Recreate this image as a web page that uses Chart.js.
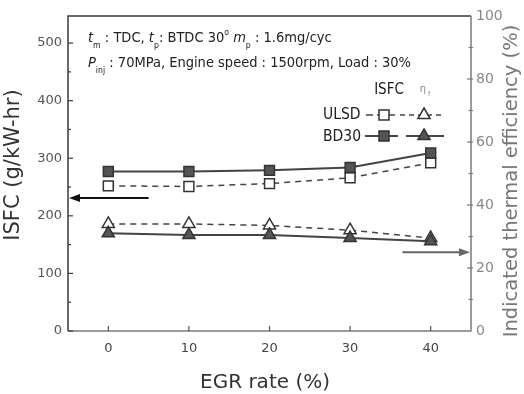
<!DOCTYPE html>
<html>
<head>
<meta charset="utf-8">
<script src="https://cdn.jsdelivr.net/npm/chart.js@4.4.1/dist/chart.umd.min.js"></script>
<style>
  html, body { margin: 0; padding: 0; background: #fff; }
  #wrap { width: 524px; height: 394px; }
</style>
</head>
<body>
<div id="wrap"><canvas id="chart" width="524" height="394"></canvas></div>
<script>
// data
const egrRate = [0, 10, 20, 30, 40];
const isfcULSD = [252, 251, 256, 266, 292];
const isfcBD30 = [277, 277, 279, 284, 309];
const effULSD = [34, 34, 33.5, 32, 29.5];
const effBD30 = [31, 30.5, 30.5, 29.5, 28.5];

const xTicks = [0, 10, 20, 30, 40];
const isfcTicks = [0, 100, 200, 300, 400, 500];
const effTicks = [0, 20, 40, 60, 80, 100];

const SANS = '"DejaVu Sans", Verdana, sans-serif';
const COND = '"DejaVu Sans Condensed", "DejaVu Sans", sans-serif';

const pts = (xs, ys) => xs.map((x, i) => ({ x: x, y: ys[i] }));

// draw text with italic / sub / superscript pieces
function drawRuns(ctx, x, y, parts, size) {
  ctx.textAlign = 'left';
  ctx.textBaseline = 'alphabetic';
  parts.forEach(p => {
    const s = (p.sub || p.sup) ? size * 0.6 : size;
    ctx.font = (p.it ? 'italic ' : '') + s + 'px ' + COND;
    const dy = p.sub ? size * 0.38 : p.sup ? -size * 0.5 : 0;
    ctx.fillText(p.t, x, y + dy);
    x += ctx.measureText(p.t).width;
  });
}

function marker(ctx, kind, x, y, filled) {
  ctx.save();
  ctx.setLineDash([]);
  ctx.lineWidth = 1.5;
  ctx.strokeStyle = '#333';
  ctx.fillStyle = filled ? '#555' : '#fff';
  ctx.beginPath();
  if (kind === 'rect') {
    ctx.rect(x - 5, y - 5, 10, 10);
  } else {
    ctx.moveTo(x, y - 7);
    ctx.lineTo(x + 6.1, y + 3.5);
    ctx.lineTo(x - 6.1, y + 3.5);
    ctx.closePath();
  }
  ctx.fill();
  ctx.stroke();
  ctx.restore();
}

function arrow(ctx, x1, x2, y, color) {
  const dir = Math.sign(x2 - x1);
  ctx.save();
  ctx.strokeStyle = color;
  ctx.fillStyle = color;
  ctx.lineWidth = 2;
  ctx.beginPath();
  ctx.moveTo(x1, y);
  ctx.lineTo(x2 - dir * 8, y);
  ctx.stroke();
  ctx.beginPath();
  ctx.moveTo(x2, y);
  ctx.lineTo(x2 - dir * 11, y - 4);
  ctx.lineTo(x2 - dir * 11, y + 4);
  ctx.closePath();
  ctx.fill();
  ctx.restore();
}

function seg(ctx, x1, x2, y, dash, w) {
  ctx.setLineDash(dash);
  ctx.lineWidth = w;
  ctx.beginPath();
  ctx.moveTo(x1, y);
  ctx.lineTo(x2, y);
  ctx.stroke();
  ctx.setLineDash([]);
}

const framePlugin = {
  id: 'frame',
  beforeDatasetsDraw(chart) {
    const ctx = chart.ctx;
    const a = chart.chartArea;
    const x = chart.scales.x, yL = chart.scales.yL, yR = chart.scales.yR;
    ctx.save();
    ctx.lineWidth = 1.5;
    // top + left
    ctx.strokeStyle = '#3a3a3a';
    ctx.beginPath();
    ctx.moveTo(a.left, a.bottom);
    ctx.lineTo(a.left, a.top);
    ctx.lineTo(a.right, a.top);
    ctx.stroke();
    // right + bottom (grey)
    ctx.strokeStyle = '#7a7a7a';
    ctx.beginPath();
    ctx.moveTo(a.right, a.top);
    ctx.lineTo(a.right, a.bottom);
    ctx.lineTo(a.left, a.bottom);
    ctx.stroke();

    ctx.lineWidth = 1.2;
    // left ticks (inward), minor every 50
    ctx.strokeStyle = '#3a3a3a';
    for (let v = 0; v <= 500; v += 50) {
      const py = yL.getPixelForValue(v);
      const len = v % 100 === 0 ? 5 : 3;
      ctx.beginPath();
      ctx.moveTo(a.left, py);
      ctx.lineTo(a.left + len, py);
      ctx.stroke();
    }
    // right ticks, minor every 10
    ctx.strokeStyle = '#7a7a7a';
    for (let v = 10; v < 100; v += 10) {
      const py = yR.getPixelForValue(v);
      const len = v % 20 === 0 ? 4 : 2.5;
      ctx.beginPath();
      ctx.moveTo(a.right - len, py);
      ctx.lineTo(a.right + 2, py);
      ctx.stroke();
    }
    // x ticks (inward)
    ctx.strokeStyle = '#555';
    xTicks.forEach(v => {
      const px = x.getPixelForValue(v);
      ctx.beginPath();
      ctx.moveTo(px, a.bottom);
      ctx.lineTo(px, a.bottom - 5);
      ctx.stroke();
    });
    ctx.restore();
  },
  afterDraw(chart) {
    const ctx = chart.ctx;
    const a = chart.chartArea;
    const x = chart.scales.x, yL = chart.scales.yL, yR = chart.scales.yR;
    ctx.save();

    // arrows pointing at each axis
    arrow(ctx, x.getPixelForValue(5), a.left + 1, yL.getPixelForValue(231), '#111');
    arrow(ctx, x.getPixelForValue(36.5), a.right - 1, yR.getPixelForValue(25), '#666');

    // condition text
    ctx.fillStyle = '#222';
    drawRuns(ctx, 88, 42, [
      { t: 't', it: true }, { t: 'm', sub: true }, { t: ' : TDC, ' },
      { t: 't', it: true }, { t: 'p', sub: true }, { t: ': BTDC 30' },
      { t: 'o', sup: true }, { t: ' ' },
      { t: 'm', it: true }, { t: 'p', sub: true }, { t: ' : 1.6mg/cyc' }
    ], 14.5);
    drawRuns(ctx, 88, 67, [
      { t: 'P', it: true }, { t: 'inj', sub: true },
      { t: ' : 70MPa, Engine speed : 1500rpm, Load : 30%' }
    ], 14.5);

    // legend
    ctx.fillStyle = '#222';
    ctx.font = '15px ' + COND;
    ctx.textBaseline = 'middle';
    ctx.textAlign = 'center';
    ctx.fillText('ISFC', 389, 90);
    ctx.fillStyle = '#888';
    ctx.font = '11px ' + COND;
    ctx.fillText('\u03b7', 423, 89);
    ctx.font = '7px ' + COND;
    ctx.fillText('f', 429, 94);

    ctx.fillStyle = '#222';
    ctx.font = '15.5px ' + COND;
    ctx.textAlign = 'left';
    ctx.fillText('ULSD', 323, 115);
    ctx.fillText('BD30', 323, 137);

    ctx.strokeStyle = '#444';
    seg(ctx, 366, 398, 115, [7, 4], 1.5);
    seg(ctx, 400, 444, 115, [5, 4], 1.5);
    seg(ctx, 365, 398, 136, [], 2);
    seg(ctx, 406, 444, 136, [], 2);
    marker(ctx, 'rect', 384, 115, false);
    marker(ctx, 'tri', 424, 115, false);
    marker(ctx, 'rect', 384, 136, true);
    marker(ctx, 'tri', 424, 136, true);

    // axis titles
    ctx.textAlign = 'center';
    ctx.textBaseline = 'middle';
    ctx.fillStyle = '#333';
    ctx.font = '20px ' + SANS;
    ctx.fillText('EGR rate (%)', 265, 383);
    ctx.save();
    ctx.font = '21px ' + SANS;
    ctx.translate(14, 165);
    ctx.rotate(-Math.PI / 2);
    ctx.fillText('ISFC (g/kW-hr)', 0, 0);
    ctx.restore();
    ctx.save();
    ctx.fillStyle = '#777';
    ctx.font = '19.5px ' + SANS;
    ctx.translate(512, 181);
    ctx.rotate(-Math.PI / 2);
    ctx.fillText('Indicated thermal efficiency (%)', 0, 0);
    ctx.restore();

    ctx.restore();
  }
};

const dashed = [6, 5];

new Chart(document.getElementById('chart'), {
  type: 'line',
  data: {
    datasets: [
      {
        label: 'ULSD eta', yAxisID: 'yR', data: pts(egrRate, effULSD),
        borderColor: '#444', borderWidth: 1.5, borderDash: dashed,
        pointStyle: 'triangle', pointRadius: 7, pointBackgroundColor: '#fff',
        pointBorderColor: '#333', pointBorderWidth: 1.5, order: 2
      },
      {
        label: 'BD30 eta', yAxisID: 'yR', data: pts(egrRate, effBD30),
        borderColor: '#444', borderWidth: 2,
        pointStyle: 'triangle', pointRadius: 7, pointBackgroundColor: '#555',
        pointBorderColor: '#333', pointBorderWidth: 1.5, order: 1
      },
      {
        label: 'ULSD ISFC', yAxisID: 'yL', data: pts(egrRate, isfcULSD),
        borderColor: '#444', borderWidth: 1.5, borderDash: dashed,
        pointStyle: 'rect', pointRadius: 7, pointBackgroundColor: '#fff',
        pointBorderColor: '#333', pointBorderWidth: 1.5, order: 4
      },
      {
        label: 'BD30 ISFC', yAxisID: 'yL', data: pts(egrRate, isfcBD30),
        borderColor: '#444', borderWidth: 2,
        pointStyle: 'rect', pointRadius: 7, pointBackgroundColor: '#555',
        pointBorderColor: '#333', pointBorderWidth: 1.5, order: 3
      }
    ]
  },
  options: {
    responsive: false,
    animation: false,
    layout: { padding: { top: 16, left: 0, right: 0, bottom: 0 } },
    plugins: { legend: { display: false }, tooltip: { enabled: false } },
    scales: {
      x: {
        type: 'linear', min: -5, max: 45,
        grid: { display: false, drawTicks: false },
        border: { display: false },
        afterBuildTicks: s => { s.ticks = xTicks.map(v => ({ value: v })); },
        afterFit: s => { s.height = 63; },
        ticks: { padding: 10, color: '#444', font: { family: SANS, size: 13 } }
      },
      yL: {
        position: 'left', min: 0, max: 547,
        grid: { display: false, drawTicks: false },
        border: { display: false },
        afterBuildTicks: s => { s.ticks = isfcTicks.map(v => ({ value: v })); },
        afterFit: s => { s.width = 68; },
        ticks: { padding: 6, color: '#555', font: { family: SANS, size: 13 } }
      },
      yR: {
        position: 'right', min: 0, max: 100,
        grid: { display: false, drawTicks: false },
        border: { display: false },
        afterBuildTicks: s => { s.ticks = effTicks.map(v => ({ value: v })); },
        afterFit: s => { s.width = 53; },
        ticks: { padding: 5, color: '#888', font: { family: SANS, size: 14 } }
      }
    }
  },
  plugins: [framePlugin]
});
</script>
</body>
</html>
